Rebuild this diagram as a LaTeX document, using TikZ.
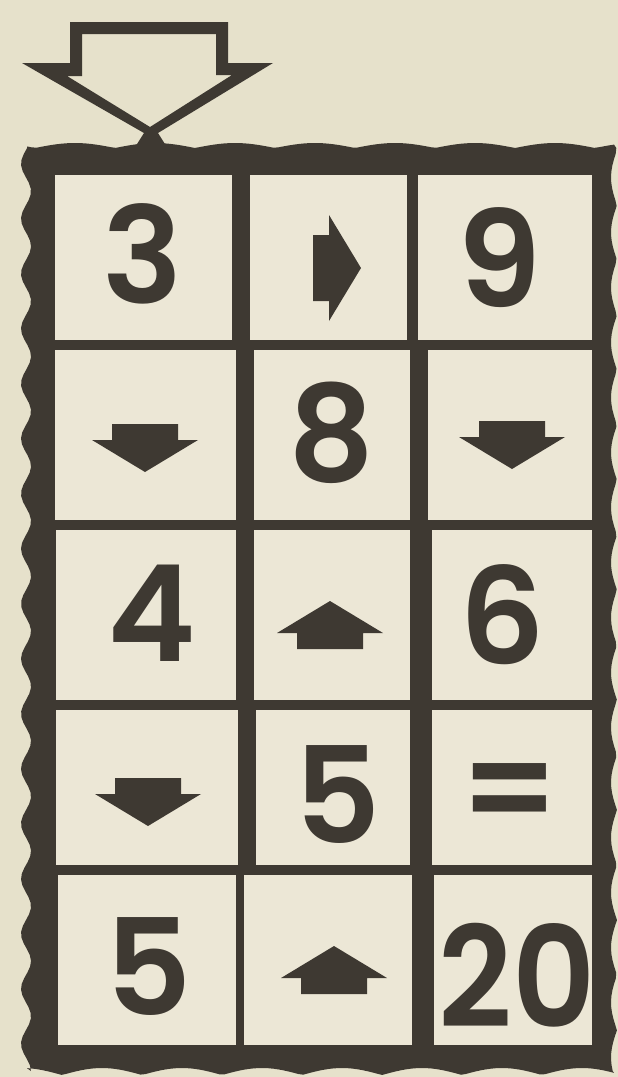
\documentclass[tikz,border=0pt]{standalone}
\usepackage{fontspec}
\setmainfont{Poppins}[BoldFont=* SemiBold]
\definecolor{paper}{RGB}{230,225,203}
\definecolor{cellpaper}{RGB}{236,231,214}
\definecolor{ink}{RGB}{62,57,50}
\newcommand\twodigits[1]{\scalebox{0.92}[1]{\fontsize{140}{140}\selectfont\bfseries #1}}
\tikzset{
  digit/.style={text=ink, inner sep=0pt, font=\fontsize{134}{134}\selectfont\bfseries},
  cellarrow/.pic={\fill[ink] (-33,-24) -- (33,-24) -- (33,-8) -- (53,-8)
    -- (0,24) -- (-53,-8) -- (-33,-8) -- cycle;}
}

\begin{document}
\begin{tikzpicture}[x=1pt, y=-1pt]
  \useasboundingbox (0,0) rectangle (618,1077);
  \fill[paper] (0,0) rectangle (618,1077);
  % Frame with a wavy rim (top, right, bottom, left).
  \fill[ink]
    plot[domain=27:614, samples=120] (\x, {148 - 5*abs(sin((\x-35)/80*180))})
    -- plot[domain=148:1071, samples=160] ({617 - 6*abs(sin((\x-150)/55*180))}, \x)
    -- plot[domain=614:27, samples=120] (\x, {1075 - 7*abs(sin((\x-62)/80*180))})
    -- plot[domain=1071:148, samples=160] ({26 - 5*sin((\x-150)/55*360)}, \x)
    -- cycle;
  % Hollow entry arrow on top.
  \fill[ink, even odd rule]
    (70,22) -- (228,22) -- (228,63) -- (273,63) -- (158,133) -- (170,152)
      -- (132,152) -- (144,133) -- (22,63) -- (70,63) -- cycle
    (82,34) -- (216,34) -- (216,75) -- (232,75) -- (150,127) -- (67,76)
      -- (82,76) -- cycle;
  % Cell faces, row by row.
  \foreach \xa/\ya/\xb/\yb in {
      55/175/232/340, 250/175/407/340, 418/175/592/340,
      55/350/236/520, 254/350/410/520, 428/350/592/520,
      56/530/236/700, 254/530/410/700, 432/530/592/700,
      56/710/238/865, 256/710/410/865, 432/710/592/865,
      58/875/236/1045, 244/875/412/1045, 434/875/592/1045}
    \fill[cellpaper] (\xa,\ya) rectangle (\xb,\yb);
  % Numbers.
  \foreach \x/\y/\name/\lbl in {143/254/three/3, 499/258/nine/9,
      332/433/eight/8, 152/613/four/4, 502/615/six/6,
      338/795/five/5, 510/800/equals/=, 149/967/fivelow/5}
    \node[digit] (\name) at (\x,\y) {\lbl};
  \node[digit] (twenty) at (517,975) {\twodigits{20}};
  % Arrows between the numbers.
  \foreach \x/\y/\r in {337/268/90, 145/448/0, 512/445/0,
      330/625/180, 148/802/0, 334/970/180}
    \pic[rotate=\r] at (\x,\y) {cellarrow};
\end{tikzpicture}
\end{document}
